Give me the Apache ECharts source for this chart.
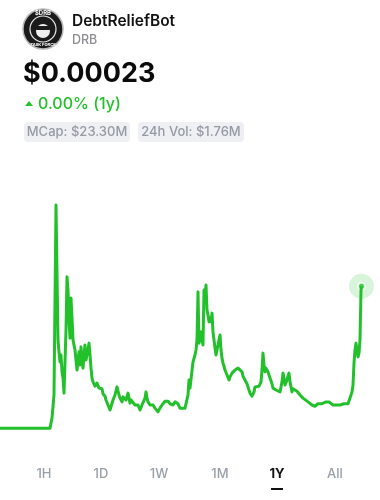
<!DOCTYPE html>
<html><head><meta charset="utf-8">
<style>html,body{margin:0;padding:0;background:#fff;}#c{width:380px;height:500px;}</style>
<script src="https://cdn.jsdelivr.net/npm/echarts@6/dist/echarts.min.js"></script>
</head><body><div id="c"></div>
<script>
// Day index within the 1-year window
var days = [0,50,52,54,56,58,59,60,61,62,63,64,66,67,68,69,70,71,72,73,74,75,76,77,78,79,80,81,82,83,84,85,86,87,88,89,90,91,92,93,94,95,97,99,100,102,103,105,106,107,108,110,112,113,115,117,119,120,122,123,125,126,128,130,131,133,135,137,138,140,142,143,145,146,147,148,150,153,155,158,160,162,165,166,168,170,172,173,175,177,178,180,182,185,187,188,189,190,192,193,194,195,196,197,198,199,200,201,202,203,204,205,206,207,208,209,210,211,212,213,214,215,216,217,218,219,220,221,222,223,224,225,227,229,230,232,234,235,236,238,240,242,243,245,247,249,250,252,253,254,255,257,259,261,262,263,264,265,266,267,268,270,272,273,276,278,280,281,282,283,284,285,286,287,288,289,290,292,293,295,297,298,300,303,305,308,310,312,313,315,317,318,320,322,324,326,327,329,331,333,335,336,337,338,340,342,344,346,348,349,350,351,352,353,354,355,356,357,358,359,360,361,361.5];
// Price in micro-USD (1 = $0.000001)
var priceMicroUSD = [3,3,19,56,360,144,125,109,120,93,83,59,160,245,224,176,147,211,179,144,136,128,112,96,112,125,104,133,109,99,120,136,112,109,128,139,120,99,83,77,80,70,75,67,64,66,58,54,48,51,40,32,35,48,56,69,56,51,45,53,56,48,59,43,48,51,40,37,40,32,40,43,51,61,51,45,40,40,35,29,35,40,46,43,46,42,43,40,45,46,42,35,37,35,38,56,80,67,70,109,112,120,128,144,221,139,147,157,144,136,224,208,232,192,184,173,179,173,187,157,144,131,120,128,131,144,152,128,115,107,102,96,88,80,85,91,94,96,99,99,96,93,86,80,74,64,59,54,51,61,69,72,70,77,96,123,104,93,99,101,93,83,74,67,64,64,61,64,77,91,83,72,72,80,86,91,77,61,66,64,62,61,56,51,48,45,43,40,40,38,37,42,42,42,43,45,48,45,42,40,37,40,42,42,40,40,42,40,42,45,51,56,61,72,107,128,139,128,117,123,144,224,230];
var coinName = "DebtReliefBot", ticker = "DRB", priceText = "$0.00023", changeText = "0.00% (1y)";
var statLabels = ["MCap: $23.30M", "24h Vol: $1.76M"];
var ranges = ["1H","1D","1W","1M","1Y","All"];
var activeRange = "1Y";

var green = "#22c12b";
var series = days.map(function(d,i){return [d, priceMicroUSD[i]];});
var last = series[series.length-1];
var font = "Inter, 'Noto Sans', sans-serif";

var rangeX = [44,101,159,220,277,335];
var graphics = [
  {type:'circle', shape:{cx:43,cy:29,r:20}, style:{fill:'#1b1b1b', stroke:'#b8b8b8', lineWidth:1.5}},
  {type:'circle', shape:{cx:43,cy:29,r:13}, style:{fill:'none', stroke:'#e8e8e8', lineWidth:1.2}},
  {type:'circle', shape:{cx:43,cy:31,r:7}, style:{fill:'#f0f0f0'}},
  {type:'rect', shape:{x:35,y:26,width:16,height:4,r:2}, style:{fill:'#1b1b1b'}},
  {type:'text', x:43, y:13, style:{text:'$DRB', fill:'#fff', font:'bold 6px '+font, align:'center', verticalAlign:'middle'}},
  {type:'text', x:43, y:45, style:{text:'TASK FORCE', fill:'#fff', font:'bold 4px '+font, align:'center', verticalAlign:'middle'}},
  {type:'text', x:72, y:21, style:{text:coinName, fill:'#111', font:'600 15.5px '+font, verticalAlign:'middle'}},
  {type:'text', x:72, y:40, style:{text:ticker, fill:'#8e8e93', font:'500 12.5px '+font, verticalAlign:'middle'}},
  {type:'text', x:23, y:74, style:{text:priceText, fill:'#0b0b0b', font:'bold 27px '+font, verticalAlign:'middle'}},
  {type:'polygon', shape:{points:[[25,106],[33,106],[29,101]]}, style:{fill:green}},
  {type:'text', x:38, y:104, style:{text:changeText, fill:green, font:'500 16px '+font, verticalAlign:'middle'}},
  {type:'rect', shape:{x:24,y:122,width:106,height:20,r:4}, style:{fill:'#eef0f4'}},
  {type:'text', x:77, y:132.5, style:{text:statLabels[0], fill:'#959aa3', font:'500 13px '+font, align:'center', verticalAlign:'middle'}},
  {type:'rect', shape:{x:138,y:122,width:106,height:20,r:4}, style:{fill:'#eef0f4'}},
  {type:'text', x:191, y:132.5, style:{text:statLabels[1], fill:'#959aa3', font:'500 13px '+font, align:'center', verticalAlign:'middle'}}
];
ranges.forEach(function(r,i){
  var act = r===activeRange;
  graphics.push({type:'text', x:rangeX[i], y:474, style:{text:r, fill: act?'#111':'#9aa0a8', font:(act?'bold ':'500 ')+'13px '+font, align:'center', verticalAlign:'middle'}});
  if(act) graphics.push({type:'rect', shape:{x:rangeX[i]-6,y:488,width:12,height:2}, style:{fill:'#111'}});
});

var chart = echarts.init(document.getElementById('c'), null, {renderer:'canvas'});
chart.setOption({
  animation:false,
  grid:{left:0, width:365, top:200, height:230},
  xAxis:{type:'value', min:0, max:365, show:false},
  yAxis:{type:'value', min:0, max:368, show:false},
  graphic:graphics,
  series:[
    {type:'line', data:series, showSymbol:false, lineStyle:{color:green, width:3, join:'round'}, itemStyle:{color:green}},
    {type:'scatter', data:[last], symbolSize:25, itemStyle:{color:'rgba(34,193,43,0.22)'}, silent:true},
    {type:'scatter', data:[last], symbolSize:7, itemStyle:{color:green, borderColor:'#fff', borderWidth:2}, silent:true}
  ]
});
</script></body></html>
